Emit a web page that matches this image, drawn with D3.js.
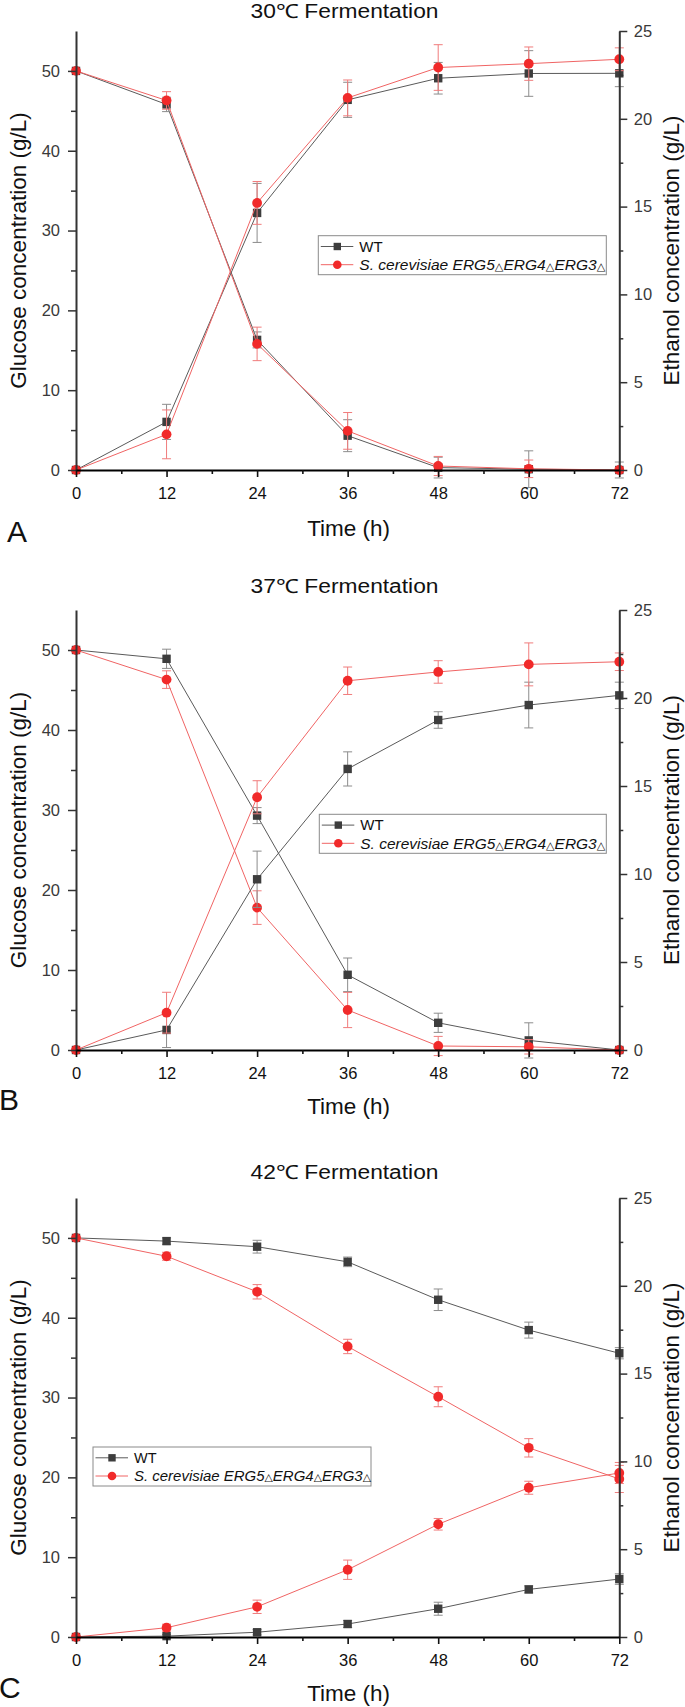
<!DOCTYPE html>
<html><head><meta charset="utf-8">
<script src="https://cdn.jsdelivr.net/npm/d3@7"></script>
<style>
body{margin:0;background:#fff}
svg{display:block}
text{font-family:"Liberation Sans",Arial,Helvetica,sans-serif}
</style>
</head><body>
<svg id="chart" width="685" height="1707"></svg>
<script>
// ---------------- data ----------------
const times = [0, 12, 24, 36, 48, 60, 72];
const xMajorTicks = [0, 12, 24, 36, 48, 60, 72];
const xMinorTicks = [6, 18, 30, 42, 54, 66];
const glucoseTicks = [0, 10, 20, 30, 40, 50];
const glucoseMinorTicks = [5, 15, 25, 35, 45];
const ethanolTicks = [0, 5, 10, 15, 20, 25];
const ethanolMinorTicks = [2.5, 7.5, 12.5, 17.5, 22.5];
const panelTitles = ["30℃ Fermentation", "37℃ Fermentation", "42℃ Fermentation"];
const panelLetters = ["A", "B", "C"];
const seriesNames = ["WT", "S. cerevisiae ERG5△ERG4△ERG3△"];
const xTitle = "Time (h)";
const yLeftTitle = "Glucose concentration (g/L)";
const yRightTitle = "Ethanol concentration (g/L)";

// Panel A (30 ℃)
const glucoseWT_A      = [50, 45.8, 16.3, 4.3, 0.3, 0.1, 0];
const glucoseWT_A_err  = [0, 0.9, 1.0, 2.0, 1.3, 2.3, 1.0];
const glucoseMut_A     = [50, 46.3, 15.8, 4.9, 0.5, 0.15, 0];
const glucoseMut_A_err = [0, 1.1, 2.1, 2.3, 1.2, 1.1, 0.3];
const ethanolWT_A      = [0, 2.74, 14.64, 21.08, 22.31, 22.58, 22.59];
const ethanolWT_A_err  = [0, 1.0, 1.68, 1.0, 0.9, 1.3, 0.76];
const ethanolMut_A     = [0, 2.03, 15.21, 21.19, 22.92, 23.14, 23.39];
const ethanolMut_A_err = [0, 1.39, 1.22, 1.02, 1.3, 0.95, 0.65];

// Panel B (37 ℃)
const glucoseWT_B      = [50, 48.9, 29.3, 9.4, 3.4, 1.2, 0];
const glucoseWT_B_err  = [0, 1.2, 1.0, 2.1, 1.2, 2.2, 0.3];
const glucoseMut_B     = [50, 46.3, 17.8, 5.0, 0.5, 0.4, 0];
const glucoseMut_B_err = [0, 1.1, 2.1, 2.2, 1.2, 0.9, 0.2];
const ethanolWT_B      = [0, 1.14, 9.7, 15.97, 18.75, 19.6, 20.15];
const ethanolWT_B_err  = [0, 1.0, 1.6, 0.97, 0.47, 1.3, 0.75];
const ethanolMut_B     = [0, 2.12, 14.36, 20.98, 21.48, 21.91, 22.06];
const ethanolMut_B_err = [0, 1.16, 0.94, 0.78, 0.64, 1.22, 0.5];

// Panel C (42 ℃)
const glucoseWT_C      = [50, 49.6, 48.9, 47.0, 42.25, 38.45, 35.55];
const glucoseWT_C_err  = [0, 0.4, 0.8, 0.6, 1.35, 1.0, 0.7];
const glucoseMut_C     = [50, 47.7, 43.25, 36.4, 30.1, 23.7, 19.8];
const glucoseMut_C_err = [0, 0.5, 0.9, 0.9, 1.25, 1.15, 1.7];
const ethanolWT_C      = [0, 0.05, 0.27, 0.74, 1.61, 2.71, 3.30];
const ethanolWT_C_err  = [0, 0.1, 0.15, 0.2, 0.37, 0.2, 0.3];
const ethanolMut_C     = [0, 0.53, 1.72, 3.83, 6.42, 8.5, 9.34];
const ethanolMut_C_err = [0, 0.2, 0.38, 0.55, 0.33, 0.37, 0.6];

const panelData = [
  {gWT: glucoseWT_A, gWTe: glucoseWT_A_err, gM: glucoseMut_A, gMe: glucoseMut_A_err,
   eWT: ethanolWT_A, eWTe: ethanolWT_A_err, eM: ethanolMut_A, eMe: ethanolMut_A_err},
  {gWT: glucoseWT_B, gWTe: glucoseWT_B_err, gM: glucoseMut_B, gMe: glucoseMut_B_err,
   eWT: ethanolWT_B, eWTe: ethanolWT_B_err, eM: ethanolMut_B, eMe: ethanolMut_B_err},
  {gWT: glucoseWT_C, gWTe: glucoseWT_C_err, gM: glucoseMut_C, gMe: glucoseMut_C_err,
   eWT: ethanolWT_C, eWTe: ethanolWT_C_err, eM: ethanolMut_C, eMe: ethanolMut_C_err}
];

// ---------------- layout ----------------
const plotLeft = 76, plotRight = 619.3;
const layout = [
  {top: 31,   bottom: 470,  titleY: 17.5, letterX: 7,  letterY: 542,  timeY: 536,  legX: 318.3, legY: 235.7, legW: 288, legTextW: 246, legFont: 15},
  {top: 610,  bottom: 1050, titleY: 593,  letterX: -1, letterY: 1110, timeY: 1114, legX: 319.3, legY: 814.3, legW: 287, legTextW: 245, legFont: 15},
  {top: 1198, bottom: 1637, titleY: 1179, letterX: -1, letterY: 1698, timeY: 1701, legX: 93,    legY: 1447,  legW: 278, legTextW: 237, legFont: 14.5}
];

const style = {
  wtMarker: "#3d3d3d", wtLine: "#5a5a5a", wtErr: "#8c8c8c",
  mutMarker: "#f12a2a", mutLine: "#f06464", mutErr: "#f07c7c"
};

const svg = d3.select("#chart");
svg.append("rect").attr("width", 685).attr("height", 1707).attr("fill", "#fff");

function drawSeries(g, x, y, vals, errs, kind) {
  const isWT = kind === "wt";
  const pts = times.map((t, i) => ({t, v: vals[i], e: errs[i]}));
  const line = d3.line().x(d => x(d.t)).y(d => y(d.v));
  g.append("path").datum(pts).attr("d", line)
    .attr("fill", "none")
    .attr("stroke", isWT ? style.wtLine : style.mutLine)
    .attr("stroke-width", 1);
  const eb = g.append("g").attr("stroke", isWT ? style.wtErr : style.mutErr).attr("stroke-width", 1);
  pts.filter(d => d.e > 0).forEach(d => {
    const cx = x(d.t), y1 = y(d.v + d.e), y2 = y(d.v - d.e);
    eb.append("line").attr("x1", cx).attr("x2", cx).attr("y1", y1).attr("y2", y2);
    eb.append("line").attr("x1", cx - 4.5).attr("x2", cx + 4.5).attr("y1", y1).attr("y2", y1);
    eb.append("line").attr("x1", cx - 4.5).attr("x2", cx + 4.5).attr("y1", y2).attr("y2", y2);
  });
  if (isWT) {
    g.selectAll(null).data(pts).enter().append("rect")
      .attr("x", d => x(d.t) - 4.2).attr("y", d => y(d.v) - 4.2)
      .attr("width", 8.4).attr("height", 8.4).attr("fill", style.wtMarker);
  } else {
    g.selectAll(null).data(pts).enter().append("circle")
      .attr("cx", d => x(d.t)).attr("cy", d => y(d.v)).attr("r", 4.9)
      .attr("fill", style.mutMarker);
  }
}

layout.forEach((L, pi) => {
  const D = panelData[pi];
  const g = svg.append("g");
  const x = d3.scaleLinear().domain([0, 72]).range([plotLeft, plotRight]);
  const yG = d3.scaleLinear().domain([0, 55]).range([L.bottom, L.top]);
  const yE = d3.scaleLinear().domain([0, 25]).range([L.bottom, L.top]);

  // title
  g.append("text").attr("x", 344.5).attr("y", L.titleY)
    .attr("text-anchor", "middle").attr("font-size", 19.5).attr("fill", "#111")
    .attr("textLength", 188).attr("lengthAdjust", "spacingAndGlyphs")
    .text(panelTitles[pi]);

  // series (glucose layer, then ethanol layer)
  const sg = g.append("g");
  drawSeries(sg, x, yG, D.gWT, D.gWTe, "wt");
  drawSeries(sg, x, yG, D.gM, D.gMe, "mut");
  drawSeries(sg, x, yE, D.eWT, D.eWTe, "wt");
  drawSeries(sg, x, yE, D.eM, D.eMe, "mut");

  // left axis
  const gl = g.append("g").attr("transform", `translate(${plotLeft},0)`);
  gl.call(d3.axisLeft(yG).tickValues(glucoseTicks).tickSize(8).tickSizeOuter(0).tickFormat(d3.format("d")));
  gl.append("g").call(d3.axisLeft(yG).tickValues(glucoseMinorTicks).tickSize(5).tickSizeOuter(0).tickFormat(""))
    .select(".domain").remove();
  gl.selectAll("path.domain").attr("stroke", "#333").attr("stroke-width", 2);
  gl.selectAll(".tick line").attr("stroke", "#333").attr("stroke-width", 1.5);
  gl.selectAll(".tick text").attr("x", -16).attr("font-size", 16.5).attr("fill", "#3a3a3a")
    .attr("font-family", '"Liberation Sans",Arial,sans-serif');

  // right axis
  const gr = g.append("g").attr("transform", `translate(${plotRight},0)`);
  gr.call(d3.axisRight(yE).tickValues(ethanolTicks).tickSize(8).tickSizeOuter(0).tickFormat(d3.format("d")));
  gr.append("g").call(d3.axisRight(yE).tickValues(ethanolMinorTicks).tickSize(4).tickSizeOuter(0).tickFormat(""))
    .select(".domain").remove();
  gr.selectAll("path.domain").attr("stroke", "#333").attr("stroke-width", 2);
  gr.selectAll(".tick line").attr("stroke", "#333").attr("stroke-width", 1.5);
  gr.selectAll(".tick text").attr("x", 14.5).attr("font-size", 16.5).attr("fill", "#3a3a3a")
    .attr("font-family", '"Liberation Sans",Arial,sans-serif');

  // bottom axis
  const gb = g.append("g").attr("transform", `translate(0,${L.bottom})`);
  gb.call(d3.axisBottom(x).tickValues(xMajorTicks).tickSize(7).tickSizeOuter(0).tickFormat(d3.format("d")));
  gb.append("g").call(d3.axisBottom(x).tickValues(xMinorTicks).tickSize(4).tickSizeOuter(0).tickFormat(""))
    .select(".domain").remove();
  gb.selectAll("path.domain").attr("stroke", "#000").attr("stroke-width", 2.2);
  gb.selectAll(".tick line").attr("stroke", "#111").attr("stroke-width", 1.6);
  gb.selectAll(".tick text").attr("y", 29).attr("dy", null).attr("font-size", 16.5).attr("fill", "#111")
    .attr("font-family", '"Liberation Sans",Arial,sans-serif');

  // axis titles
  g.append("text").attr("x", (plotLeft + plotRight) / 2 + 1).attr("y", L.timeY)
    .attr("text-anchor", "middle").attr("font-size", 22.5).attr("fill", "#111").text(xTitle);
  const cy = (L.top + L.bottom) / 2;
  g.append("text").attr("transform", `translate(26,${cy}) rotate(-90)`)
    .attr("text-anchor", "middle").attr("font-size", 22.5).attr("fill", "#111").text(yLeftTitle);
  g.append("text").attr("transform", `translate(679,${cy}) rotate(-90)`)
    .attr("text-anchor", "middle").attr("font-size", 22.5).attr("fill", "#111").text(yRightTitle);

  // panel letter
  g.append("text").attr("x", L.letterX).attr("y", L.letterY)
    .attr("font-size", 30).attr("fill", "#111").text(panelLetters[pi]);

  // legend
  const lg = g.append("g").attr("transform", `translate(${L.legX},${L.legY})`);
  lg.append("rect").attr("x", 0).attr("y", 0).attr("width", L.legW).attr("height", 39)
    .attr("fill", "#fff").attr("stroke", "#8a8a8a").attr("stroke-width", 1);
  const rows = [10.8, 29];
  seriesNames.forEach((name, i) => {
    const ry = rows[i];
    const isWT = i === 0;
    lg.append("line").attr("x1", 2.5).attr("x2", 35).attr("y1", ry).attr("y2", ry)
      .attr("stroke", isWT ? style.wtLine : style.mutLine).attr("stroke-width", 1);
    if (isWT) {
      lg.append("rect").attr("x", 19 - 3.7).attr("y", ry - 3.7).attr("width", 7.4).attr("height", 7.4)
        .attr("fill", style.wtMarker);
    } else {
      lg.append("circle").attr("cx", 19).attr("cy", ry).attr("r", 4.3).attr("fill", style.mutMarker);
    }
    const t = lg.append("text").attr("x", 41).attr("y", ry + 5.3)
      .attr("font-size", L.legFont).attr("fill", "#111");
    if (isWT) {
      t.text(name);
    } else {
      t.attr("font-style", "italic").attr("textLength", L.legTextW).attr("lengthAdjust", "spacingAndGlyphs");
      const parts = name.split("△");
      parts.forEach((p, k) => {
        t.append("tspan").text(p);
        if (k < parts.length - 1) {
          t.append("tspan").attr("font-size", L.legFont * 0.72).attr("font-style", "normal")
            .attr("font-family", '"DejaVu Sans",sans-serif').text("△");
        }
      });
    }
  });
});
</script>
</body></html>
